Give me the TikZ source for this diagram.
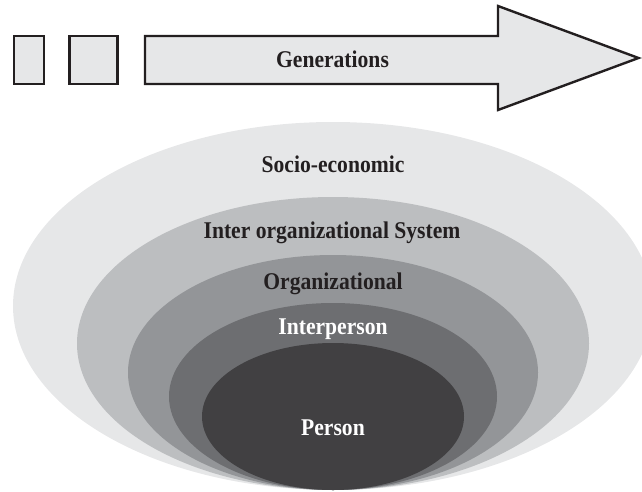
\documentclass[tikz,border=0pt]{standalone}
\usepackage{fontspec}
\setmainfont{Liberation Serif}[FakeStretch=0.9]
\definecolor{ringA}{HTML}{E6E7E8}
\definecolor{ringB}{HTML}{BCBEC0}
\definecolor{ringC}{HTML}{939598}
\definecolor{ringD}{HTML}{6D6E71}
\definecolor{ringE}{HTML}{414042}
\definecolor{inkdark}{HTML}{231F20}
\definecolor{boxfill}{HTML}{E6E7E8}
\tikzset{
  outlined/.style={draw=inkdark, fill=boxfill, line width=2.4pt, line join=miter},
  lbl/.style={anchor=base, inner sep=0pt, font=\fontsize{24}{28}\selectfont\bfseries, text=inkdark},
  lblw/.style={lbl, text=white}
}
\begin{document}
\begin{tikzpicture}[x=1pt,y=-1pt]
\useasboundingbox (0,0) rectangle (642,492);
\clip (0,0) rectangle (642,492);
% generation boxes and arrow
\draw[outlined] (14,36) rectangle (44,84);
\draw[outlined] (69.5,36) rectangle (117.5,84);
\draw[outlined] (145,36) -- (498,36) -- (498,6) -- (638.5,58) -- (498,110) -- (498,84) -- (145,84) -- cycle;
\node[lbl] (gen) at (332.5,68) {Generations};
% nested ellipses
\fill[ringA] (333,306) ellipse [x radius=320, y radius=184];
\fill[ringB] (333,343.5) ellipse [x radius=256, y radius=146.5];
\fill[ringC] (333,372.5) ellipse [x radius=205, y radius=117.5];
\fill[ringD] (333,396.5) ellipse [x radius=164, y radius=93.5];
\fill[ringE] (333,416.5) ellipse [x radius=131, y radius=73.5];
% labels
\node[lbl] (socio) at (333,172) {Socio-economic};
\node[lbl] (inter) at (332,238.5) {Inter organizational System};
\node[lbl] (org) at (333,289) {Organizational};
\node[lblw] (ip) at (333,334) {Interperson};
\node[lblw] (person) at (333,435.5) {Person};
\end{tikzpicture}
\end{document}
